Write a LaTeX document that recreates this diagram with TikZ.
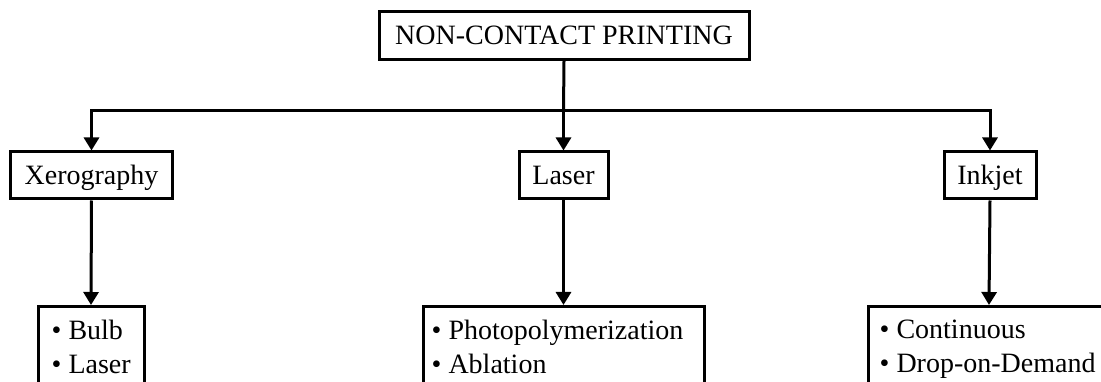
\documentclass[tikz,border=0pt]{standalone}
\usepackage{fontspec}
\setmainfont{Liberation Serif}
\usetikzlibrary{arrows.meta}
\begin{document}
\begin{tikzpicture}[x=1pt,y=-1pt,
  box/.style={draw, line width=3pt, inner sep=0pt, minimum height=47pt,
    text height=25pt, text depth=6pt,
    font=\fontsize{28}{34}\selectfont},
  listbox/.style={draw, line width=3pt, inner sep=0pt, anchor=north, minimum height=160pt},
  listtext/.style={anchor=north west, inner sep=0pt, align=left,
    font=\fontsize{28}{34}\selectfont},
  conn/.style={line width=3pt},
  arr/.style={line width=3pt, -{Triangle[width=15pt,length=13pt]}}
]
\useasboundingbox (0,0) rectangle (1101,382);
\clip (0,0) rectangle (1101,382);

\node[box, minimum width=370pt, minimum height=48pt] (top) at (564,35.5) {NON-CONTACT PRINTING};
\node[box, minimum width=162pt] (xero) at (91.5,175.5) {Xerography};
\node[box, minimum width=89pt] (laser) at (563.5,175.5) {Laser};
\node[box, minimum width=92pt] (ink) at (990,175.5) {Inkjet};

\node[listbox, minimum width=106pt] (xlist) at (91,305) {};
\node[listbox, minimum width=281pt] (llist) at (563.5,305) {};
\node[listbox, minimum width=242pt] (ilist) at (989,305) {};

\node[listtext] (xtext) at ([xshift=15pt,yshift=-15pt]xlist.north west) {• Bulb\\• Laser};
\node[listtext] (ltext) at ([xshift=10pt,yshift=-15pt]llist.north west) {• Photopolymerization\\• Ablation};
\node[listtext] (itext) at ([xshift=13pt,yshift=-15pt]ilist.north west) {• Continuous\\• Drop-on-Demand};

\coordinate (bus) at (563.5,111);
\draw[conn] (top.south) -- (bus);
\draw[arr] (bus) -| (xero.north);
\draw[arr] (bus) -- (laser.north);
\draw[arr] (bus) -| (ink.north);

\draw[arr] (xero.south) -- (xlist.north);
\draw[arr] (laser.south) -- (llist.north);
\draw[arr] (ink.south) -- (ilist.north);
\end{tikzpicture}
\end{document}
